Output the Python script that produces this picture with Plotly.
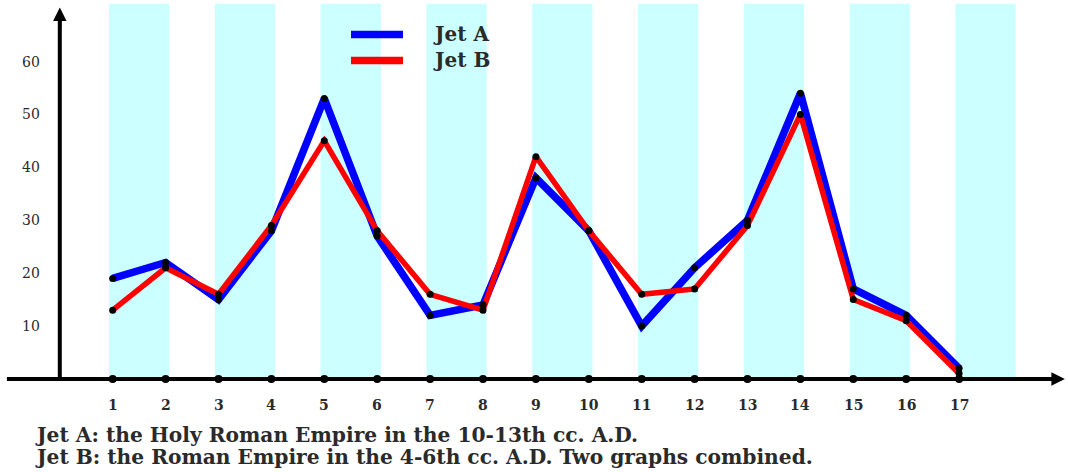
import plotly.graph_objects as go

# ---- data ----
periods = list(range(1, 18))
jet_a = [19, 22, 15, 28, 53, 27, 12, 14, 38, 28, 10, 21, 30, 54, 17, 12, 2]
jet_b = [13, 21, 16, 29, 45, 28, 16, 13, 42, 28, 16, 17, 29, 50, 15, 11, 1]
y_ticks = [10, 20, 30, 40, 50, 60]
band_starts = [1, 3, 5, 7, 9, 11, 13, 15, 17]
series_names = ["Jet A", "Jet B"]
caption_lines = [
    "Jet A: the Holy Roman Empire in the 10-13th cc. A.D.",
    "Jet B: the Roman Empire in the 4-6th cc. A.D. Two graphs combined.",
]

W, H = 1068, 472
BLUE = "#0000ff"
RED = "#ff0000"
CYAN = "#ccffff"
TXT = "#2a2a2a"
SERIF = "DejaVu Serif"

fig = go.Figure()

# shaded bands
for s in band_starts:
    fig.add_shape(type="rect", x0=s - 0.07, x1=s + 1.07, y0=-0.35, y1=70.9,
                  fillcolor=CYAN, line_width=0, layer="below")

# axis lines (below traces, above bands)
fig.add_shape(type="line", x0=-1.0, x1=18.8, y0=0, y1=0,
              line=dict(color="black", width=4), layer="below")
fig.add_shape(type="line", x0=0, x1=0, y0=0, y1=69,
              line=dict(color="black", width=4), layer="below")

# data lines
fig.add_trace(go.Scatter(x=periods, y=jet_a, mode="lines", name=series_names[0],
                         line=dict(color=BLUE, width=7.5), showlegend=False))
fig.add_trace(go.Scatter(x=periods, y=jet_b, mode="lines", name=series_names[1],
                         line=dict(color=RED, width=5.5), showlegend=False))
# black dots
for ys, sz in ((jet_a, 7), (jet_b, 7), ([0] * len(periods), 8)):
    fig.add_trace(go.Scatter(x=periods, y=ys, mode="markers",
                             marker=dict(color="black", size=sz, line_width=0),
                             showlegend=False, hoverinfo="skip"))

# arrowheads
fig.add_annotation(x=19, y=0, ax=18.6, ay=0, axref="x", ayref="y", xref="x", yref="y",
                   text="", showarrow=True, arrowhead=2, arrowsize=0.9, arrowwidth=3,
                   arrowcolor="black")
fig.add_annotation(x=0, y=70.2, ax=0, ay=66, axref="x", ayref="y", xref="x", yref="y",
                   text="", showarrow=True, arrowhead=2, arrowsize=0.9, arrowwidth=3,
                   arrowcolor="black")

# tick labels
for t in y_ticks:
    fig.add_annotation(x=-0.336, y=t, xref="x", yref="y", text=str(t), showarrow=False,
                       xanchor="right", yanchor="middle",
                       font=dict(family=SERIF, size=14, color=TXT))
for p in periods:
    fig.add_annotation(x=p, y=-4.93, xref="x", yref="y", text="<b>%d</b>" % p,
                       showarrow=False, xanchor="center", yanchor="middle",
                       font=dict(family=SERIF, size=14, color=TXT))

# legend (manual)
def px(xp):
    return xp / W
def py(yp):
    return 1 - yp / H

for name, col, yp in ((series_names[0], BLUE, 34.5), (series_names[1], RED, 60.5)):
    fig.add_shape(type="line", xref="paper", yref="paper",
                  x0=px(351), x1=px(403), y0=py(yp), y1=py(yp),
                  line=dict(color=col, width=7.5))
    fig.add_annotation(xref="paper", yref="paper", x=px(431), y=py(yp),
                       text="<b>%s</b>" % name, showarrow=False,
                       xanchor="left", yanchor="middle",
                       font=dict(family=SERIF, size=20, color=TXT))

# caption
for line, yp in zip(caption_lines, (435.0, 457.0)):
    fig.add_annotation(xref="paper", yref="paper", x=px(33), y=py(yp),
                       text="<b>%s</b>" % line, showarrow=False,
                       xanchor="left", yanchor="middle",
                       font=dict(family=SERIF, size=20.2, color=TXT))

x0 = 1 - 112.7 / 52.9
x1 = 1 + (W - 112.7) / 52.9
y1 = 378.9 / 5.29
y0 = -(H - 378.9) / 5.29
fig.update_layout(
    width=W, height=H, margin=dict(l=0, r=0, t=0, b=0),
    paper_bgcolor="white", plot_bgcolor="white",
    xaxis=dict(range=[x0, x1], visible=False, fixedrange=True),
    yaxis=dict(range=[y0, y1], visible=False, fixedrange=True),
    showlegend=False,
)
fig.write_html("out.html", config={"displayModeBar": False},
               post_script="document.body.style.margin='0';document.body.style.overflow='hidden';")
